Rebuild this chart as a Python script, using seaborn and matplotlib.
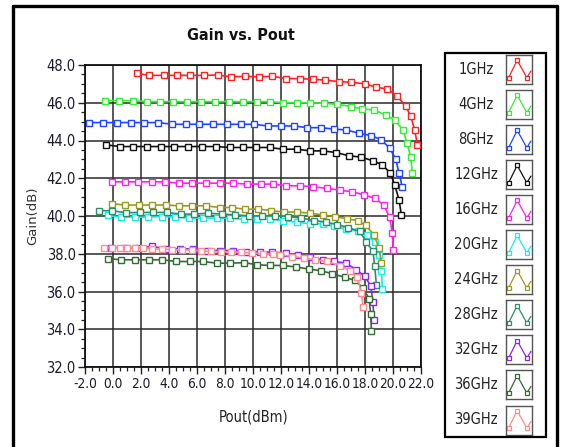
import matplotlib
matplotlib.use("Agg")
import matplotlib.pyplot as plt
import seaborn as sns
import numpy as np
import pandas as pd
from matplotlib import font_manager
from matplotlib.font_manager import FontProperties
from matplotlib.lines import Line2D
from matplotlib.patches import Rectangle

sns.set_theme(style="white")
plt.rcParams["font.family"] = ["Liberation Sans", "DejaVu Sans"]


def narrow_font(bold=False):
    """Pick a condensed/narrow face if one is installed."""
    best = None
    for f in font_manager.fontManager.ttflist:
        fn = f.fname.lower()
        if not ("condensed" in fn or "narrow" in fn):
            continue
        if "italic" in fn or "oblique" in fn:
            continue
        w = f.weight if isinstance(f.weight, int) else (700 if f.weight == "bold" else 400)
        if bold != (w >= 600):
            continue
        if not bold and w != 400:
            continue
        rank = 0 if "liberation" in fn else 1 if "dejavu" in fn else 2
        if best is None or rank < best[0]:
            best = (rank, f.fname)
    if best is None:
        return FontProperties(family="Liberation Sans", weight="bold" if bold else "normal")
    return FontProperties(fname=best[1])


fp = narrow_font(False)
fpb = narrow_font(True)

labels = ["1GHz", "4GHz", "8GHz", "12GHz", "16GHz", "20GHz",
          "24GHz", "28GHz", "32GHz", "36GHz", "39GHz"]
colors = ["#ff2020", "#33ee33", "#1f45ff", "#111111", "#ff22ee", "#11eeee",
          "#9a9a22", "#2a9068", "#8a22ff", "#356b35", "#ff8c8c"]

pout_1 = [1.67, 2.57, 3.62, 4.57, 5.52, 6.48, 7.48, 8.45, 9.45, 10.43, 11.38, 12.34, 13.33,
          14.29, 15.12, 16.12, 17.03, 18.03, 18.81, 19.6, 20.29, 20.9, 21.26, 21.55, 21.74]
gain_1 = [47.56, 47.45, 47.45, 47.45, 47.45, 47.45, 47.47, 47.37, 47.4, 47.37, 47.4, 47.28, 47.28,
          47.24, 47.2, 47.12, 47.08, 47.0, 46.82, 46.73, 46.36, 45.83, 45.3, 44.56, 43.77]

pout_4 = [-0.59, 0.41, 1.38, 2.38, 3.33, 4.29, 5.29, 6.24, 7.24, 8.24, 9.26, 10.24, 11.19,
          12.14, 13.1, 14.1, 15.07, 16.03, 17.0, 17.8, 18.64, 19.48, 20.12, 20.72, 21.0, 21.26, 21.38]
gain_4 = [46.11, 46.11, 46.11, 46.06, 46.06, 46.06, 46.06, 46.06, 46.06, 46.06, 46.06, 46.06, 46.06,
          46.0, 46.0, 46.0, 45.97, 45.92, 45.8, 45.67, 45.62, 45.35, 45.09, 44.56, 43.86, 43.15, 42.27]

pout_8 = [-1.71, -0.71, 0.29, 1.24, 2.19, 3.21, 4.21, 5.17, 6.14, 7.14, 8.14, 9.14, 10.07, 11.03,
          11.98, 12.93, 13.88, 14.88, 15.79, 16.67, 17.57, 18.46, 19.17, 19.76, 20.19, 20.43, 20.67]
gain_8 = [44.95, 44.95, 44.95, 44.95, 44.95, 44.95, 44.86, 44.86, 44.86, 44.86, 44.86, 44.86, 44.86,
          44.77, 44.77, 44.77, 44.68, 44.68, 44.6, 44.56, 44.38, 44.26, 44.03, 43.59, 43.03, 42.27, 41.51]

pout_12 = [-0.55, 0.48, 1.43, 2.43, 3.38, 4.36, 5.36, 6.36, 7.33, 8.33, 9.24, 10.19, 11.19, 12.1,
           13.14, 14.05, 15.0, 15.95, 16.84, 17.74, 18.57, 19.24, 19.81, 20.12, 20.43, 20.6]
gain_12 = [43.77, 43.68, 43.68, 43.68, 43.68, 43.68, 43.68, 43.68, 43.68, 43.63, 43.63, 43.63, 43.63,
           43.54, 43.54, 43.45, 43.45, 43.36, 43.19, 43.12, 42.92, 42.71, 42.27, 41.65, 40.86, 40.03]

pout_16 = [-0.12, 0.83, 1.79, 2.74, 3.69, 4.69, 5.64, 6.6, 7.62, 8.57, 9.57, 10.55, 11.43, 12.38,
           13.33, 14.29, 15.29, 16.19, 17.1, 17.93, 18.74, 19.33, 19.76, 19.95, 20.03]
gain_16 = [41.81, 41.81, 41.81, 41.81, 41.81, 41.74, 41.74, 41.74, 41.74, 41.74, 41.69, 41.69, 41.69,
           41.6, 41.6, 41.55, 41.46, 41.37, 41.28, 41.12, 40.93, 40.58, 39.93, 39.1, 38.21]

pout_20 = [-0.4, 0.55, 1.55, 2.5, 3.45, 4.4, 5.43, 6.38, 7.38, 8.38, 9.33, 10.31, 11.19, 12.14,
           13.14, 14.1, 15.0, 15.79, 16.67, 17.5, 18.17, 18.69, 19.0, 19.17, 19.24]
gain_20 = [40.03, 39.94, 39.94, 39.94, 39.97, 39.94, 39.89, 39.89, 39.89, 39.89, 39.82, 39.84, 39.84,
           39.76, 39.66, 39.59, 39.59, 39.45, 39.32, 39.18, 39.0, 38.6, 37.95, 37.06, 36.13]

pout_24 = [-0.12, 0.83, 1.83, 2.79, 3.76, 4.69, 5.64, 6.62, 7.62, 8.52, 9.45, 10.36, 11.31, 12.21,
           13.17, 14.05, 14.96, 15.83, 16.74, 17.5, 18.05, 18.64, 19.0, 19.17]
gain_24 = [40.65, 40.58, 40.58, 40.58, 40.58, 40.54, 40.54, 40.54, 40.45, 40.45, 40.35, 40.37, 40.28,
           40.21, 40.21, 40.15, 40.06, 39.97, 39.85, 39.75, 39.5, 39.0, 38.3, 37.51]

pout_28 = [-1.02, -0.07, 0.9, 1.9, 2.86, 3.81, 4.81, 5.79, 6.79, 7.79, 8.69, 9.69, 10.6, 11.55,
           12.5, 13.45, 14.33, 15.19, 16.03, 16.79, 17.62, 18.1, 18.57, 18.69, 18.81]
gain_28 = [40.28, 40.28, 40.17, 40.19, 40.19, 40.19, 40.1, 40.1, 40.15, 40.1, 40.06, 40.01, 40.01, 40.01,
           39.97, 39.89, 39.76, 39.68, 39.54, 39.39, 39.18, 38.62, 38.12, 37.33, 36.36]

pout_32 = [-0.17, 0.83, 1.79, 2.79, 3.74, 4.76, 5.71, 6.67, 7.62, 8.57, 9.52, 10.48, 11.38, 12.33,
           13.21, 14.1, 14.96, 15.76, 16.62, 17.38, 17.98, 18.4, 18.57, 18.62]
gain_32 = [38.33, 38.33, 38.33, 38.39, 38.26, 38.26, 38.26, 38.17, 38.17, 38.17, 38.09, 38.09, 38.09,
           38.04, 37.91, 37.82, 37.68, 37.59, 37.51, 37.15, 36.8, 36.31, 35.42, 34.51]

pout_36 = [-0.36, 0.55, 1.55, 2.55, 3.5, 4.52, 5.48, 6.43, 7.38, 8.33, 9.36, 10.24, 11.19, 12.14,
           13.05, 13.98, 14.84, 15.67, 16.55, 17.26, 17.86, 18.29, 18.4, 18.46]
gain_36 = [37.74, 37.68, 37.68, 37.68, 37.68, 37.59, 37.59, 37.59, 37.5, 37.5, 37.53, 37.42, 37.38, 37.38,
           37.3, 37.19, 37.1, 36.94, 36.75, 36.59, 36.18, 35.62, 34.81, 33.89]

pout_39 = [-0.64, -0.1, 0.45, 1.0, 1.55, 2.1, 2.8, 3.5, 4.2, 4.9, 5.6, 6.3, 7.0, 7.7, 8.4, 9.1,
           9.9, 10.7, 11.4, 11.95, 12.8, 13.6, 14.4, 15.3, 16.2, 16.9, 17.45, 17.74, 17.86]
gain_39 = [38.33, 38.33, 38.33, 38.33, 38.32, 38.3, 38.25, 38.25, 38.22, 38.2, 38.2, 38.15, 38.12, 38.1,
           38.1, 38.08, 38.05, 38.0, 37.98, 37.95, 37.85, 37.78, 37.68, 37.59, 37.37, 37.1, 36.75, 35.92, 35.18]

series = [(pout_1, gain_1), (pout_4, gain_4), (pout_8, gain_8), (pout_12, gain_12),
          (pout_16, gain_16), (pout_20, gain_20), (pout_24, gain_24), (pout_28, gain_28),
          (pout_32, gain_32), (pout_36, gain_36), (pout_39, gain_39)]

frames = []
for lab, (p, g) in zip(labels, series):
    frames.append(pd.DataFrame({"Pout": p, "Gain": g, "freq": lab}))
df = pd.concat(frames, ignore_index=True)

W, H = 569, 447
fig = plt.figure(figsize=(W / 100, H / 100), dpi=100)
fig.patch.set_facecolor("white")

x0, x1, y0, y1 = 85.3, 421.0, 65.0, 367.0
ax = fig.add_axes([x0 / W, 1 - y1 / H, (x1 - x0) / W, (y1 - y0) / H])
ax.set_facecolor("white")

for lab, col in zip(labels, colors):
    sub = df[df["freq"] == lab]
    sns.lineplot(data=sub, x="Pout", y="Gain", ax=ax, color=col, marker="s",
                 markersize=4.6, markerfacecolor="white", markeredgecolor=col,
                 markeredgewidth=1.0, linewidth=1.2, estimator=None, sort=False,
                 legend=False, zorder=3)

xt = np.arange(-2, 22.1, 2)
yt = np.arange(32, 48.1, 2)
ax.set_xlim(-2, 22)
ax.set_ylim(32, 48)
ax.set_xticks(xt)
ax.set_yticks(yt)
ax.set_xticks(np.arange(-2, 22.1, 0.5), minor=True)
ax.set_yticks(np.arange(32, 48.1, 0.5), minor=True)
ax.set_xticklabels([f"{v:.1f}" for v in xt])
ax.set_yticklabels([f"{v:.1f}" for v in yt])
for t in ax.get_xticklabels():
    t.set_fontproperties(fp)
    t.set_fontsize(9.8)
    t.set_color("#1a1a2a")
for t in ax.get_yticklabels():
    t.set_fontproperties(fp)
    t.set_fontsize(10.5)
    t.set_color("#1a1a2a")
ax.tick_params(axis="both", which="major", length=5, width=1.0, color="#222222",
               direction="out", pad=2, bottom=True, left=True)
ax.tick_params(axis="both", which="minor", length=3, width=0.9, color="#222222",
               direction="out", bottom=True, left=True)
ax.grid(True, which="major", color="#2a2a2a", linewidth=1.1, zorder=1)
ax.grid(False, which="minor")
for s in ax.spines.values():
    s.set_color("#111111")
    s.set_linewidth(1.3)
ax.set_xlabel("Pout(dBm)", fontproperties=fp, fontsize=10.5, color="#222222")
ax.xaxis.set_label_coords(0.5, -(410 - y1) / (y1 - y0))
ax.set_ylabel("Gain(dB)", fontsize=9.5, color="#333333", family=["DejaVu Sans"])
ax.yaxis.set_label_coords(-(x0 - 39) / (x1 - x0), 0.5)

fig.text(241 / W, 1 - 36 / H, "Gain vs. Pout", ha="center", va="center",
         fontproperties=fpb, fontsize=11.5, fontweight="bold", color="#111111")

# outer frame
for xs, ys in [([13, 13], [5.5, H + 5]), ([13, 557], [5.5, 5.5]), ([557, 557], [5.5, H + 5])]:
    fig.add_artist(Line2D([x / W for x in xs], [1 - y / H for y in ys],
                          color="black", linewidth=2.4, transform=fig.transFigure))

# legend panel
fig.add_artist(Rectangle((444.5 / W, 1 - 436.5 / H), 101 / W, 384 / H,
                         fill=False, edgecolor="black", linewidth=1.6,
                         transform=fig.transFigure))
icon_x = [0.1, 0.43, 0.8, 0.96]
icon_y = [0.22, 0.82, 0.22, 0.45]
for i, (lab, col) in enumerate(zip(labels, colors)):
    cy = 69.5 + i * 35.05
    fig.text(476 / W, 1 - cy / H, lab, ha="center", va="center",
             fontproperties=fp, fontsize=10.5, color="#222222")
    iax = fig.add_axes([506 / W, 1 - (cy + 14.5) / H, 26 / W, 29 / H])
    iax.plot(icon_x, icon_y, color=col, linewidth=0.9)
    iax.plot(icon_x[:3], icon_y[:3], linestyle="none", marker="s", markersize=3,
             markerfacecolor="white", markeredgecolor=col, markeredgewidth=0.9)
    iax.set_xlim(0, 1)
    iax.set_ylim(0, 1)
    iax.set_xticks([])
    iax.set_yticks([])
    for s in iax.spines.values():
        s.set_color("#555555")
        s.set_linewidth(1.0)

fig.savefig("out.png", dpi=100, facecolor="white")
